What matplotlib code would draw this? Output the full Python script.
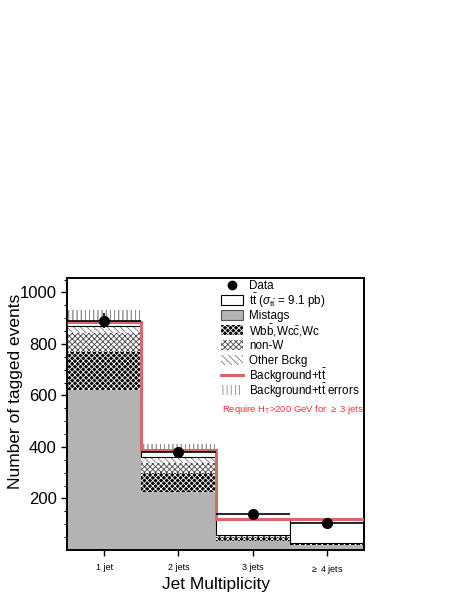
import numpy as np
import matplotlib
matplotlib.use('Agg')
import matplotlib.pyplot as plt
from matplotlib.patches import Rectangle

plt.rcParams['font.family'] = ['Liberation Sans', 'DejaVu Sans']
plt.rcParams['mathtext.fontset'] = 'custom'
plt.rcParams['mathtext.rm'] = 'Liberation Sans'
plt.rcParams['mathtext.it'] = 'Liberation Sans:italic'
plt.rcParams['hatch.linewidth'] = 0.6

# data
bins = ['1 jet', '2 jets', '3 jets', '$\\geq$ 4 jets']
mistags = [620, 226, 36, 18]
wbb = [150, 73, 16, 7]
nonw = [73, 38, 3, 1]
other = [25, 25, 3, 1]
ttbar = [17, 26, 63, 93]
bkg_err = [47, 23, 5, 5]
data = [890, 382, 141, 104]

red = '#d9686a'
x = np.arange(1, len(bins) + 1)
edges = np.append(x - 0.5, x[-1] + 0.5)

fig = plt.figure(figsize=(4.67, 6.05), dpi=100)
ax = fig.add_axes([0.1435, 0.0909, 0.636, 0.4496])

st_mis = dict(facecolor='#b3b3b3', edgecolor='#b3b3b3', linewidth=0)
st_wbb = dict(facecolor='black', edgecolor='white', hatch='xxxxxx', linewidth=0)
st_nonw = dict(facecolor='white', edgecolor='#444444', hatch='xxxxxx', linewidth=0)
st_oth = dict(facecolor='white', edgecolor='#777777', hatch='\\\\\\\\\\', linewidth=0)
st_tt = dict(facecolor='white', edgecolor='black', linewidth=0.8)
st_err = dict(facecolor='none', edgecolor='#888888', hatch='||||', linewidth=0)

# stack
bottom = np.zeros(len(x))
for vals, style in [(mistags, st_mis), (wbb, st_wbb), (nonw, st_nonw),
                    (other, st_oth), (ttbar, st_tt)]:
    ax.bar(x, vals, width=1.0, bottom=bottom, zorder=2, **style)
    bottom = bottom + np.array(vals)
total = bottom

# error band (lower half hidden behind the stack)
err = np.array(bkg_err)
ax.bar(x, 2 * err, width=1.0, bottom=total - err, zorder=1, **st_err)
ax.bar(x, err, width=1.0, bottom=total, zorder=3, **st_err)

ax.stairs(total, edges, baseline=None, color=red, linewidth=2.2, zorder=4)

ax.errorbar(x, data, xerr=0.5, yerr=np.sqrt(data), fmt='o', color='black',
            markersize=7, elinewidth=1.2, capsize=0, zorder=5)

ax.set_xlim(0.5, 4.5)
ax.set_ylim(0, 1056)
ax.set_xticks(x)
ax.set_xticklabels(bins, fontsize=6.5)
ax.set_yticks([200, 400, 600, 800, 1000])
ax.set_yticks(np.arange(50, 1056, 50), minor=True)
ax.tick_params(axis='y', labelsize=12, length=4, width=1, direction='out')
ax.tick_params(axis='y', which='minor', length=2.5, width=0.8)
ax.tick_params(axis='x', length=4, width=1, pad=5)
for s in ax.spines.values():
    s.set_linewidth(1.4)

ax.set_xlabel('Jet Multiplicity', fontsize=12.5, labelpad=1)
ax.set_ylabel('Number of tagged events', fontsize=12.5)
ax.yaxis.set_label_coords(-0.148, 0.585)

# legend drawn by hand so rows are evenly spaced
labels = [
    'Data',
    r'$\mathrm{t\bar{t}}$ ($\sigma_{\mathrm{t\bar{t}}}$ = 9.1 pb)',
    'Mistags',
    r'W$\mathrm{b\bar{b}}$,W$\mathrm{c\bar{c}}$,Wc',
    'non-W',
    'Other Bckg',
    r'Background+$\mathrm{t\bar{t}}$',
    r'Background+$\mathrm{t\bar{t}}$ errors',
]
kinds = ['data', st_tt, dict(st_mis, edgecolor='#555555', linewidth=0.8),
         st_wbb, st_nonw, st_oth, 'line', st_err]
x0, x1, xt = 0.519, 0.593, 0.613
y_top, dy, h = 0.974, 0.0552, 0.038
for i, (lab, kind) in enumerate(zip(labels, kinds)):
    yc = y_top - i * dy
    if kind == 'data':
        ax.plot([(x0 + x1) / 2], [yc], 'o', color='black', markersize=6,
                transform=ax.transAxes, clip_on=False)
    elif kind == 'line':
        ax.plot([x0, x1], [yc, yc], color=red, linewidth=2.2,
                transform=ax.transAxes, clip_on=False)
    else:
        ax.add_patch(Rectangle((x0, yc - h / 2), x1 - x0, h,
                               transform=ax.transAxes, clip_on=False, **kind))
    ax.text(xt, yc - 0.003, lab, transform=ax.transAxes, fontsize=8.4,
            va='center')

ax.text(0.522, 0.515, r'Require H$_{\mathrm{T}}$>200 GeV for $\geq$ 3 jets',
        transform=ax.transAxes, color='#ff3030', fontsize=6.8, va='center')

fig.savefig('out.png', dpi=100)
